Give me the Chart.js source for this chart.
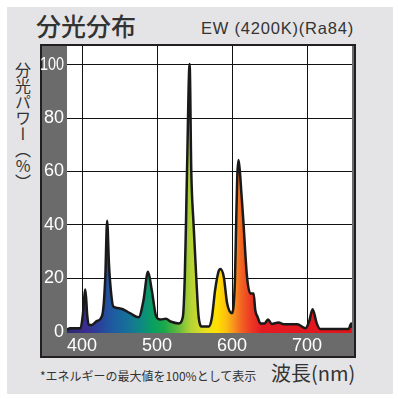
<!DOCTYPE html>
<html>
<head>
<meta charset="utf-8">
<script src="https://cdn.jsdelivr.net/npm/chart.js@4.4.0/dist/chart.umd.min.js"></script>
<style>
  html, body { margin: 0; padding: 0; background: #fff; }
  #page { position: relative; width: 398px; height: 399px; overflow: hidden; }
  #fondo { position: absolute; left: 7px; top: 7px; width: 386px; height: 387px; background: #e4e4e6; }
  .txt { position: absolute; color: #333; white-space: nowrap; font-family: "Noto Sans CJK JP", "Noto Sans", sans-serif; }
  #titulo { left: 36px; top: 8px; font-size: 25px; font-weight: 500; line-height: 34px; }
  #modelo { right: 44px; top: 17px; font-family: "Liberation Sans", sans-serif; font-size: 16.5px; letter-spacing: 0.8px; line-height: 22px; }
  #eixoY { left: 13px; top: 62px; font-size: 16px; line-height: 20px; writing-mode: vertical-rl; text-orientation: upright; }
  #nota { left: 40px; top: 368px; font-size: 12px; line-height: 16px; }
  #eixoX { left: 271px; top: 360px; font-size: 20px; line-height: 26px; }
  #moldura { position: absolute; left: 40px; top: 44px; width: 316px; height: 314px; background: #6b6b6b; }
  #grafico { position: absolute; left: 0; top: 0; }
</style>
</head>
<body>
<div id="page">
  <div id="fondo"></div>
  <div class="txt" id="titulo">分光分布</div>
  <div class="txt" id="modelo">EW (4200K)(Ra84)</div>
  <div class="txt" id="eixoY">分光パワー︵%︶</div>
  <div class="txt" id="nota">*エネルギーの最大値を100%として表示</div>
  <div class="txt" id="eixoX">波長(nm)</div>
  <div id="moldura"><canvas id="grafico" width="316" height="314"></canvas></div>
</div>
<script>
// comprimento de onda (nm) e potencia relativa (%)
const comprimentos = [380, 384, 398, 401, 404.5, 407, 409, 413, 420, 427, 431, 433.5, 436, 439, 442, 451, 464, 475.5, 482, 488, 493, 499, 504.5, 512, 518, 529, 534.5, 537, 538.6, 540, 543.5, 545.7, 548.8, 552.4, 555.5, 560, 569, 573, 577.5, 582, 584.5, 589, 593.5, 600, 604, 605.5, 607, 608.7, 610.5, 612.5, 615, 620, 624.5, 628.8, 631, 634, 638, 643.5, 648, 653, 662, 669, 687, 698, 703, 707.5, 713, 717.5, 755.5, 759, 760];
const potencias = [0.8, 1.3, 1.3, 6, 15.8, 6, 2.5, 2.5, 4, 6.2, 20, 41.5, 25, 14, 9.3, 8.7, 6.9, 5.4, 11.8, 22.4, 15.6, 5.6, 4.6, 4.8, 3.8, 3.1, 5.6, 20, 40, 60, 100.3, 60, 40, 20, 5.6, 1.9, 1.9, 5, 15.6, 22.5, 23.5, 20.6, 10.6, 6.9, 20, 40, 58, 64.3, 60, 52, 42, 20.6, 14.3, 14.3, 8.1, 5.6, 3.1, 3.1, 4.6, 2.9, 3.4, 2.8, 2.8, 1.3, 4, 8.4, 3.1, 1.0, 1.0, 3.1, 1.5];

const ticksX = [400, 500, 600, 700];
const ticksY = [0, 20, 40, 60, 80, 100];

// cores do espectro
const coresNm = [380, 405, 420, 440, 460, 480, 495, 510, 530, 545, 565, 580, 592, 602, 612, 625, 640, 760];
const cores = ['#2a2a6a', '#3a2d8f', '#2d3d99', '#1e5aa0', '#16709a', '#0e8a80', '#08a060', '#1aa84a', '#6cbc3c', '#b4d235', '#e8e020', '#ffe000', '#fcc010', '#f7941d', '#f26522', '#ec3a24', '#e31b23', '#e3141b'];

const pontos = comprimentos.map((nm, i) => ({ x: nm, y: potencias[i] }));
const fonteTicks = '18px "Liberation Sans", sans-serif';

function gradiente(context) {
  const chart = context.chart;
  const area = chart.chartArea;
  if (!area) return '#888';
  const esc = chart.scales.x;
  const x0 = esc.getPixelForValue(380);
  const x1 = esc.getPixelForValue(760);
  const g = chart.ctx.createLinearGradient(x0, 0, x1, 0);
  coresNm.forEach((nm, i) => {
    g.addColorStop((nm - 380) / 380, cores[i]);
  });
  return g;
}

const moldura = {
  id: 'moldura',
  beforeDraw(chart) {
    const ctx = chart.ctx;
    const a = chart.chartArea;
    ctx.save();
    ctx.strokeStyle = '#231f20';
    ctx.lineWidth = 2;
    ctx.strokeRect(1, 1, chart.width - 2, chart.height - 2);
    ctx.fillStyle = '#ffffff';
    ctx.fillRect(a.left, a.top, a.right - a.left, a.bottom - a.top);
    ctx.restore();
  },
  afterDraw(chart) {
    // rotulos do eixo y (o "1" fica estreito como no original)
    const ctx = chart.ctx;
    const y = chart.scales.y;
    ctx.save();
    ctx.font = fonteTicks;
    ctx.fillStyle = '#fff';
    ctx.textBaseline = 'middle';
    ctx.textAlign = 'right';
    ticksY.forEach(v => {
      const txt = String(v);
      const py = y.getPixelForValue(v);
      const px = chart.chartArea.left - 3;
      const w = ctx.measureText(txt).width;
      if (txt.length > 2) {
        const k = 24 / w;
        ctx.save();
        ctx.translate(px, py);
        ctx.scale(k, 1);
        ctx.fillText(txt, 0, 0);
        ctx.restore();
      } else {
        ctx.fillText(txt, px, py);
      }
    });
    ctx.restore();
  }
};

new Chart(document.getElementById('grafico'), {
  type: 'line',
  data: {
    datasets: [{
      data: pontos,
      borderColor: '#1a1a1a',
      borderWidth: 2.5,
      pointRadius: 0,
      cubicInterpolationMode: 'monotone',
      fill: 'start',
      backgroundColor: gradiente
    }]
  },
  options: {
    responsive: false,
    animation: false,
    devicePixelRatio: 1,
    layout: { padding: { left: 0, right: 4, top: 2, bottom: 0 } },
    plugins: { legend: { display: false }, tooltip: { enabled: false } },
    scales: {
      x: {
        type: 'linear',
        min: 380,
        max: 760,
        z: 1,
        afterBuildTicks: s => { s.ticks = ticksX.map(v => ({ value: v })); },
        afterFit: s => { s.height = 25; },
        grid: { color: '#111', lineWidth: 1, drawTicks: false },
        border: { display: false },
        ticks: { color: '#fff', font: { family: '"Liberation Sans", sans-serif', size: 18 }, padding: 2, maxRotation: 0 }
      },
      y: {
        min: -0.5,
        max: 107,
        z: 1,
        afterBuildTicks: s => { s.ticks = ticksY.map(v => ({ value: v })); },
        afterFit: s => { s.width = 27; },
        grid: { color: '#111', lineWidth: 1, drawTicks: false },
        border: { display: false },
        ticks: { display: false }
      }
    }
  },
  plugins: [moldura]
});
</script>
</body>
</html>
